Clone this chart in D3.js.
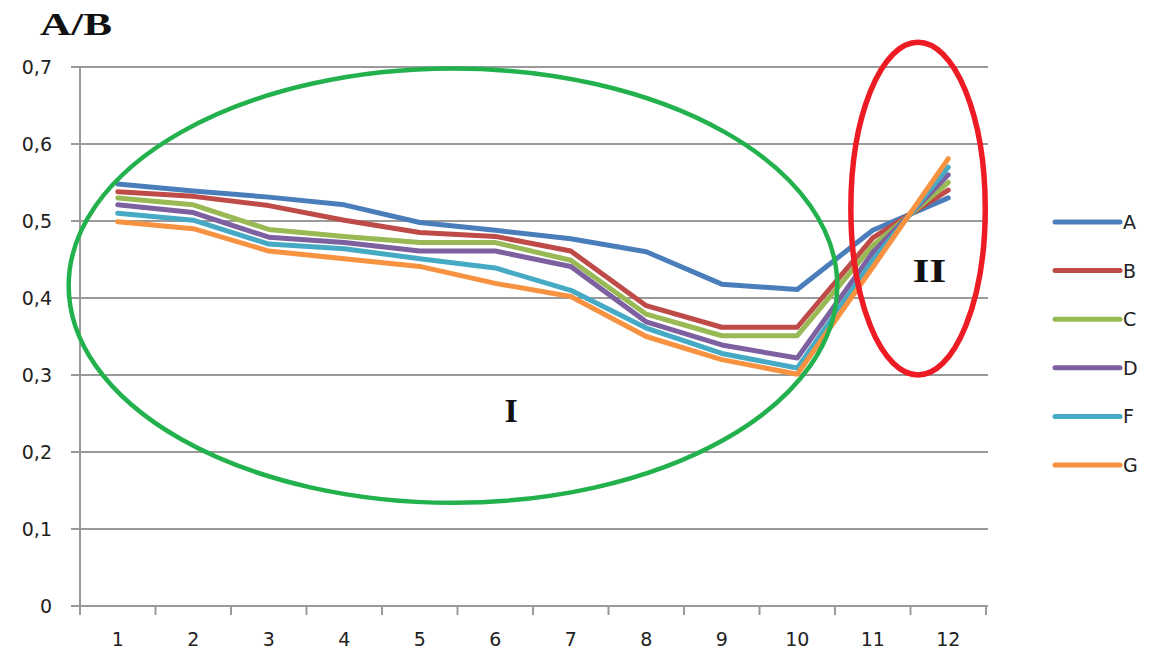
<!DOCTYPE html>
<html><head><meta charset="utf-8">
<script src="https://cdn.jsdelivr.net/npm/d3@7/dist/d3.min.js"></script>
<style>body{margin:0;background:#fff;}svg{display:block;}</style>
</head><body>
<svg id="chart" width="1153" height="654"></svg>
<script>
const categories = [1,2,3,4,5,6,7,8,9,10,11,12];
const seriesNames = ["A","B","C","D","F","G"];
const seriesColors = ["#4A7EBB","#BE4B48","#98B954","#7D60A0","#46AAC5","#F69240"];
const valuesA = [0.548,0.539,0.531,0.521,0.498,0.488,0.477,0.460,0.418,0.411,0.488,0.530];
const valuesB = [0.538,0.532,0.520,0.501,0.485,0.480,0.461,0.390,0.362,0.362,0.478,0.540];
const valuesC = [0.530,0.521,0.489,0.480,0.472,0.472,0.449,0.379,0.351,0.351,0.468,0.550];
const valuesD = [0.521,0.511,0.479,0.472,0.461,0.461,0.441,0.369,0.339,0.322,0.459,0.560];
const valuesF = [0.510,0.501,0.470,0.464,0.451,0.439,0.410,0.361,0.328,0.309,0.449,0.570];
const valuesG = [0.499,0.490,0.461,0.451,0.441,0.419,0.402,0.350,0.320,0.301,0.440,0.581];
const yTicks = [0,0.1,0.2,0.3,0.4,0.5,0.6,0.7];
const yTickLabels = ["0","0,1","0,2","0,3","0,4","0,5","0,6","0,7"];
const yTitle = "A/B";
const regionLabels = ["I","II"];

const allValues = [valuesA,valuesB,valuesC,valuesD,valuesF,valuesG];
const series = seriesNames.map((n,i)=>({name:n,color:seriesColors[i],values:allValues[i]}));

const svg = d3.select("#chart");
const L = 80, R = 986, T = 67, B = 606;
const x = d3.scalePoint().domain(categories).range([L,R]).padding(0.5);
const xb = d3.scaleBand().domain(categories).range([L,R]);
const xc = d3.scaleLinear().domain([0.5,12.5]).range([L,R]); // continuous category position
const y = d3.scaleLinear().domain([0,0.7]).range([B,T]);

const grid = "#9a9a9a";
svg.append("g").selectAll("line").data(yTicks).join("line")
  .attr("x1",L-9).attr("x2",R+2)
  .attr("y1",d=>y(d)).attr("y2",d=>y(d))
  .attr("stroke",grid).attr("stroke-width",2);
svg.append("line").attr("x1",L).attr("x2",L).attr("y1",T).attr("y2",B+1)
  .attr("stroke",grid).attr("stroke-width",2);
const xTickPos = categories.map(c=>xb(c)).concat([R]);
svg.append("g").selectAll("line").data(xTickPos).join("line")
  .attr("x1",d=>d).attr("x2",d=>d).attr("y1",B).attr("y2",B+9)
  .attr("stroke",grid).attr("stroke-width",2);

const tickFont = "'DejaVu Sans', Verdana, sans-serif";
svg.append("g").selectAll("text").data(yTicks).join("text")
  .attr("x",52).attr("y",d=>y(d)+7)
  .attr("text-anchor","end").attr("font-family",tickFont).attr("font-size",19)
  .attr("fill","#222").text((d,i)=>yTickLabels[i]);
svg.append("g").selectAll("text").data(categories).join("text")
  .attr("x",d=>x(d)).attr("y",646)
  .attr("text-anchor","middle").attr("font-family",tickFont).attr("font-size",19)
  .attr("fill","#222").text(d=>d);
svg.append("text").attr("x",40).attr("y",35)
  .attr("font-family","'Liberation Serif','Times New Roman',serif").attr("font-weight","bold")
  .attr("font-size",31).attr("textLength",72).attr("lengthAdjust","spacingAndGlyphs")
  .attr("fill","#111").text(yTitle);

const line = d3.line().x((d,i)=>x(categories[i])).y(d=>y(d));
svg.append("g").selectAll("path").data(series).join("path")
  .attr("d",d=>line(d.values)).attr("fill","none")
  .attr("stroke",d=>d.color).attr("stroke-width",5)
  .attr("stroke-linejoin","round").attr("stroke-linecap","round");

const greenEll = {cx:5.44, cy:0.416, rx:5.09, ry:0.282};
const redEll = {cx:11.6, cy:0.516, rx:0.89, ry:0.216};
[[greenEll,"#22B14C",4.5],[redEll,"#ED1C24",5.5]].forEach(([e,c,w])=>{
  svg.append("ellipse")
    .attr("cx",xc(e.cx)).attr("cy",y(e.cy))
    .attr("rx",xc(e.cx+e.rx)-xc(e.cx)).attr("ry",y(0)-y(e.ry))
    .attr("fill","none").attr("stroke",c).attr("stroke-width",w);
});
const serif = "'Liberation Serif','Times New Roman',serif";
svg.append("text").attr("x",xc(6.21)).attr("y",y(0.255)+12)
  .attr("text-anchor","middle").attr("font-family",serif).attr("font-weight","bold")
  .attr("font-size",34).attr("fill","#111").text(regionLabels[0]);
svg.append("text").attr("x",xc(11.75)).attr("y",y(0.437)+12)
  .attr("text-anchor","middle").attr("font-family",serif).attr("font-weight","bold")
  .attr("font-size",34).attr("textLength",34).attr("lengthAdjust","spacingAndGlyphs")
  .attr("fill","#111").text(regionLabels[1]);

const lg = svg.append("g");
series.forEach((s,i)=>{
  const ly = 222 + i*48.6;
  lg.append("line").attr("x1",1055).attr("x2",1120).attr("y1",ly).attr("y2",ly)
    .attr("stroke",s.color).attr("stroke-width",5).attr("stroke-linecap","round");
  lg.append("text").attr("x",1123).attr("y",ly+7).attr("font-family",tickFont)
    .attr("font-size",19).attr("fill","#222").text(s.name);
});
</script>
</body></html>
